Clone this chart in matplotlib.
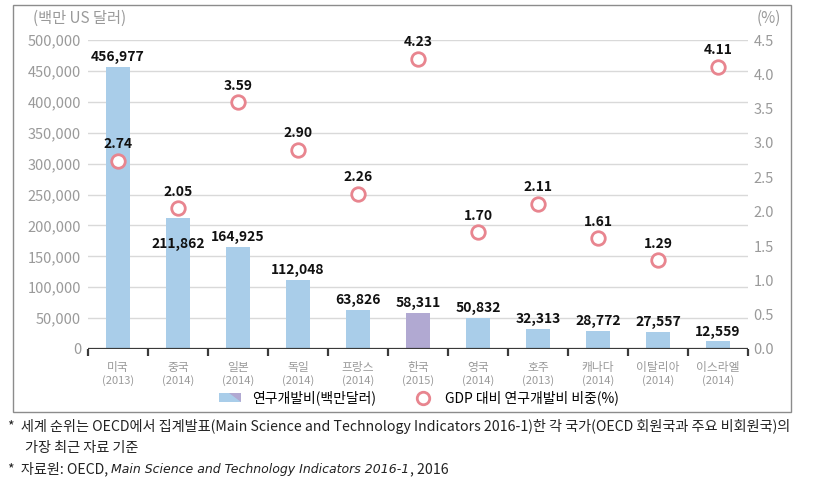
import matplotlib
matplotlib.use('Agg')
import matplotlib.pyplot as plt
from matplotlib.patches import Rectangle, Polygon
from matplotlib.lines import Line2D

plt.rcParams['font.family'] = ['Noto Sans CJK KR', 'DejaVu Sans']

countries = ['미국', '중국', '일본', '독일', '프랑스', '한국', '영국', '호주', '캐나다', '이탈리아', '이스라엘']
years = ['(2013)', '(2014)', '(2014)', '(2014)', '(2014)', '(2015)', '(2014)', '(2013)', '(2014)', '(2014)', '(2014)']
rd_spend = [456977, 211862, 164925, 112048, 63826, 58311, 50832, 32313, 28772, 27557, 12559]
gdp_share = [2.74, 2.05, 3.59, 2.90, 2.26, 4.23, 1.70, 2.11, 1.61, 1.29, 4.11]
left_ticks = [0, 50000, 100000, 150000, 200000, 250000, 300000, 350000, 400000, 450000, 500000]
right_ticks = [0.0, 0.5, 1.0, 1.5, 2.0, 2.5, 3.0, 3.5, 4.0, 4.5]

blue = '#a9cde9'
purple = '#b1a9d2'
pink = '#e8858f'
gray = '#9a9a9a'
dark = '#3a3a3a'

W, H = 821, 495
fig = plt.figure(figsize=(W / 100, H / 100), dpi=100)
ax = fig.add_axes([88 / W, 1 - 349 / H, (748 - 88) / W, (349 - 40) / H])
ax2 = ax.twinx()

x = list(range(len(countries)))
colors = [purple if c == '한국' else blue for c in countries]
ax.bar(x, rd_spend, width=0.4, color=colors, zorder=2)

ax.set_xlim(-0.5, len(countries) - 0.5)
ax.set_ylim(0, 500000)
ax2.set_ylim(0, 4.5)
for a in (ax, ax2):
    for s in a.spines.values():
        s.set_visible(False)

# grid
for v in left_ticks[1:]:
    ax.axhline(v, color='#d9d9d9', lw=1, zorder=0)
ax.axhline(0, color=dark, lw=1.6, zorder=3)

ax.set_yticks(left_ticks)
ax.set_yticklabels([f'{v:,}' for v in left_ticks])
ax.tick_params(axis='y', length=0, labelsize=10.5, labelcolor=gray, pad=5)
ax2.set_yticks(right_ticks)
ax2.set_yticklabels([f'{v:.1f}' for v in right_ticks])
ax2.tick_params(axis='y', length=0, labelsize=10.5, labelcolor=gray, pad=4)

ax.set_xticks([i - 0.5 for i in range(len(countries) + 1)])
ax.set_xticklabels([])
ax.tick_params(axis='x', direction='out', length=5, width=1.6, color=dark)

for i, (c, y) in enumerate(zip(countries, years)):
    ax.annotate(c, (i, 0), xytext=(0, -13), textcoords='offset points',
                ha='center', va='center', fontsize=8.5, color=gray)
    ax.annotate(y, (i, 0), xytext=(0, -23), textcoords='offset points',
                ha='center', va='center', fontsize=8, color=gray)

# bar labels
for i, v in enumerate(rd_spend):
    off = -19 if countries[i] == '중국' else 7
    ax.annotate(f'{v:,}', (i, v), xytext=(0, off), textcoords='offset points',
                ha='center', va='center', fontsize=10, fontweight='bold', color='#111111', zorder=5)

# circles
ax2.scatter(x, gdp_share, s=95, facecolor='white', edgecolor=pink, linewidth=2, zorder=4)
for i, p in enumerate(gdp_share):
    ax2.annotate(f'{p:.2f}', (i, p), xytext=(0, 12), textcoords='offset points',
                 ha='center', va='center', fontsize=10, fontweight='bold', color='#111111')

fig.text(33 / W, 1 - 18 / H, '(백만 US 달러)', fontsize=11, color=gray, va='center', ha='left')
fig.text(757 / W, 1 - 18 / H, '(%)', fontsize=11, color=gray, va='center', ha='left')


class SplitPatch:
    pass


class SplitHandler:
    def legend_artist(self, legend, orig_handle, fontsize, handlebox):
        x0, y0 = handlebox.xdescent, handlebox.ydescent
        w, h = handlebox.width, handlebox.height
        r = Rectangle((x0, y0), w, h, facecolor=blue, edgecolor='none', transform=handlebox.get_transform())
        t = Polygon([[x0 + w * 0.45, y0 + h], [x0 + w, y0 + h], [x0 + w, y0]], closed=True,
                    facecolor=purple, edgecolor='none', transform=handlebox.get_transform())
        handlebox.add_artist(r)
        handlebox.add_artist(t)
        return r


circle_handle = Line2D([], [], marker='o', ls='none', markersize=9, markerfacecolor='white',
                       markeredgecolor=pink, markeredgewidth=2)
fig.legend([SplitPatch(), circle_handle], ['연구개발비(백만달러)', 'GDP 대비 연구개발비 비중(%)'],
           handler_map={SplitPatch: SplitHandler()}, loc='center', bbox_to_anchor=(419 / W, 1 - 398 / H),
           ncol=2, frameon=False, prop={'size': 10},
           handlelength=1.6, handleheight=0.7, columnspacing=2.6, handletextpad=0.8)

# outer frame
fig.patches.append(Rectangle((13 / W, 1 - 412 / H), (791 - 13) / W, (412 - 5) / H,
                             transform=fig.transFigure, fill=False, edgecolor='#8c8c8c', lw=1))

# footnotes
fs = 10.2
fig.text(8 / W, 1 - 427 / H, '*  세계 순위는 OECD에서 집계발표(Main Science and Technology Indicators 2016-1)한 각 국가(OECD 회원국과 주요 비회원국)의',
         fontsize=fs, color='#222222', va='center')
fig.text(25 / W, 1 - 448 / H, '가장 최근 자료 기준', fontsize=fs, color='#222222', va='center')
t1 = fig.text(8 / W, 1 - 469 / H, '*  자료원: OECD, ', fontsize=fs, color='#222222', va='center')
t2 = fig.text(0, 0, 'Main Science and Technology Indicators 2016-1', fontsize=9, color='#222222',
              style='italic', family=['DejaVu Sans'], va='baseline')
t3 = fig.text(0, 0, ', 2016', fontsize=fs, color='#222222', va='baseline')

# place the italic part right after the first piece
fig.canvas.draw()
r = fig.canvas.get_renderer()
b1 = t1.get_window_extent(r)
t2.set_position((b1.x1 / fig.bbox.width, 1 - 473.5 / H))
fig.canvas.draw()
b2 = t2.get_window_extent(r)
t3.set_position((b2.x1 / fig.bbox.width, 1 - 473.5 / H))

fig.savefig('out.png', dpi=100)
